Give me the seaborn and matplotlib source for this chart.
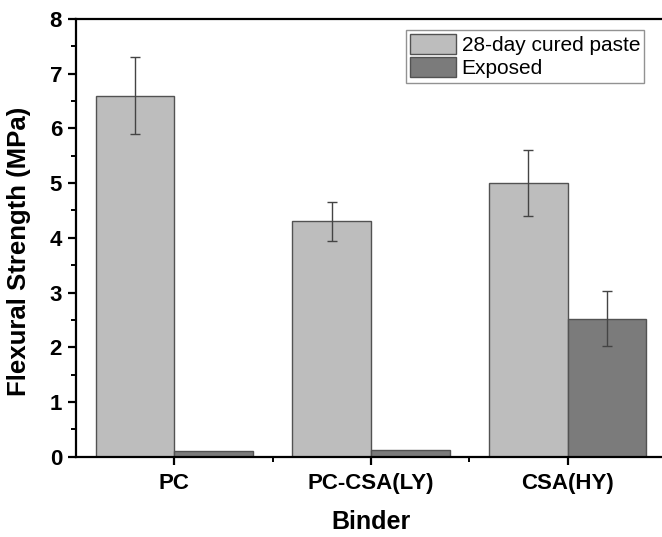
import matplotlib
matplotlib.use("Agg")
import matplotlib.pyplot as plt
import seaborn as sns
import pandas as pd
from matplotlib.ticker import MultipleLocator, FixedLocator

# Flexural strength of binders, mean and standard deviation
binders = ["PC", "PC-CSA(LY)", "CSA(HY)"]
conditions = ["28-day cured paste", "Exposed"]
cured_mean = [6.6, 4.3, 5.0]
cured_sd = [0.7, 0.35, 0.6]
exposed_mean = [0.1, 0.12, 2.52]
exposed_sd = [0.0, 0.0, 0.5]

df = pd.DataFrame({
    "Binder": binders * 2,
    "Condition": [conditions[0]] * 3 + [conditions[1]] * 3,
    "Strength": cured_mean + exposed_mean,
})

sns.set_theme(style="white")
plt.rcParams["font.family"] = ["Liberation Sans", "DejaVu Sans"]

fig = plt.figure(figsize=(6.62, 5.37), dpi=100)
ax = fig.add_axes([76 / 662, 1 - 456.7 / 537, 590 / 662, 437.7 / 537])

palette = {conditions[0]: "#bdbdbd", conditions[1]: "#7b7b7b"}
sns.barplot(data=df, x="Binder", y="Strength", hue="Condition", order=binders,
            hue_order=conditions, palette=palette, width=0.8, errorbar=None,
            edgecolor="#525252", linewidth=1.0, saturation=1, ax=ax)

# error bars centred on each bar
for cont, sds, means in zip(ax.containers, [cured_sd, exposed_sd], [cured_mean, exposed_mean]):
    xs = [p.get_x() + p.get_width() / 2 for p in cont.patches]
    for x, m, s in zip(xs, means, sds):
        if s > 0:
            ax.errorbar(x, m, yerr=s, color="#444444", elinewidth=1.0,
                        capsize=3.6, capthick=1.0, zorder=5)

ax.set_xlim(-0.5, 2.5)
ax.set_ylim(0, 8)
ax.yaxis.set_major_locator(MultipleLocator(1))
ax.yaxis.set_minor_locator(MultipleLocator(0.5))
ax.xaxis.set_minor_locator(FixedLocator([0.5, 1.5]))

for side in ["left", "bottom", "top"]:
    ax.spines[side].set_linewidth(1.6)
    ax.spines[side].set_color("black")
ax.spines["right"].set_visible(False)

ax.tick_params(axis="both", which="major", direction="out", length=6, width=1.6,
               color="black", labelsize=16, labelcolor="black")
ax.tick_params(axis="both", which="minor", direction="out", length=3.5, width=1.4,
               color="black")
ax.tick_params(axis="y", which="both", left=True, pad=4)
ax.tick_params(axis="x", which="both", bottom=True, top=False, pad=6)
for lab in ax.get_xticklabels() + ax.get_yticklabels():
    lab.set_fontweight("bold")

ax.set_xlabel("Binder", fontsize=18, fontweight="bold", color="black", labelpad=11)
ax.set_ylabel("Flexural Strength (MPa)", fontsize=18.5, fontweight="bold",
              color="black", labelpad=12)
ax.yaxis.set_label_coords(-0.077, 0.47)

leg = ax.legend(loc="upper right", bbox_to_anchor=(0.963, 0.975), fontsize=15,
                frameon=True, fancybox=False, edgecolor="#777777",
                handlelength=2.2, handleheight=1.1, handletextpad=0.25,
                borderpad=0.2, labelspacing=0.1, borderaxespad=0,
                title=None)
leg.get_frame().set_linewidth(1.0)
for t in leg.get_texts():
    t.set_color("black")

fig.savefig("out.png", dpi=100)
